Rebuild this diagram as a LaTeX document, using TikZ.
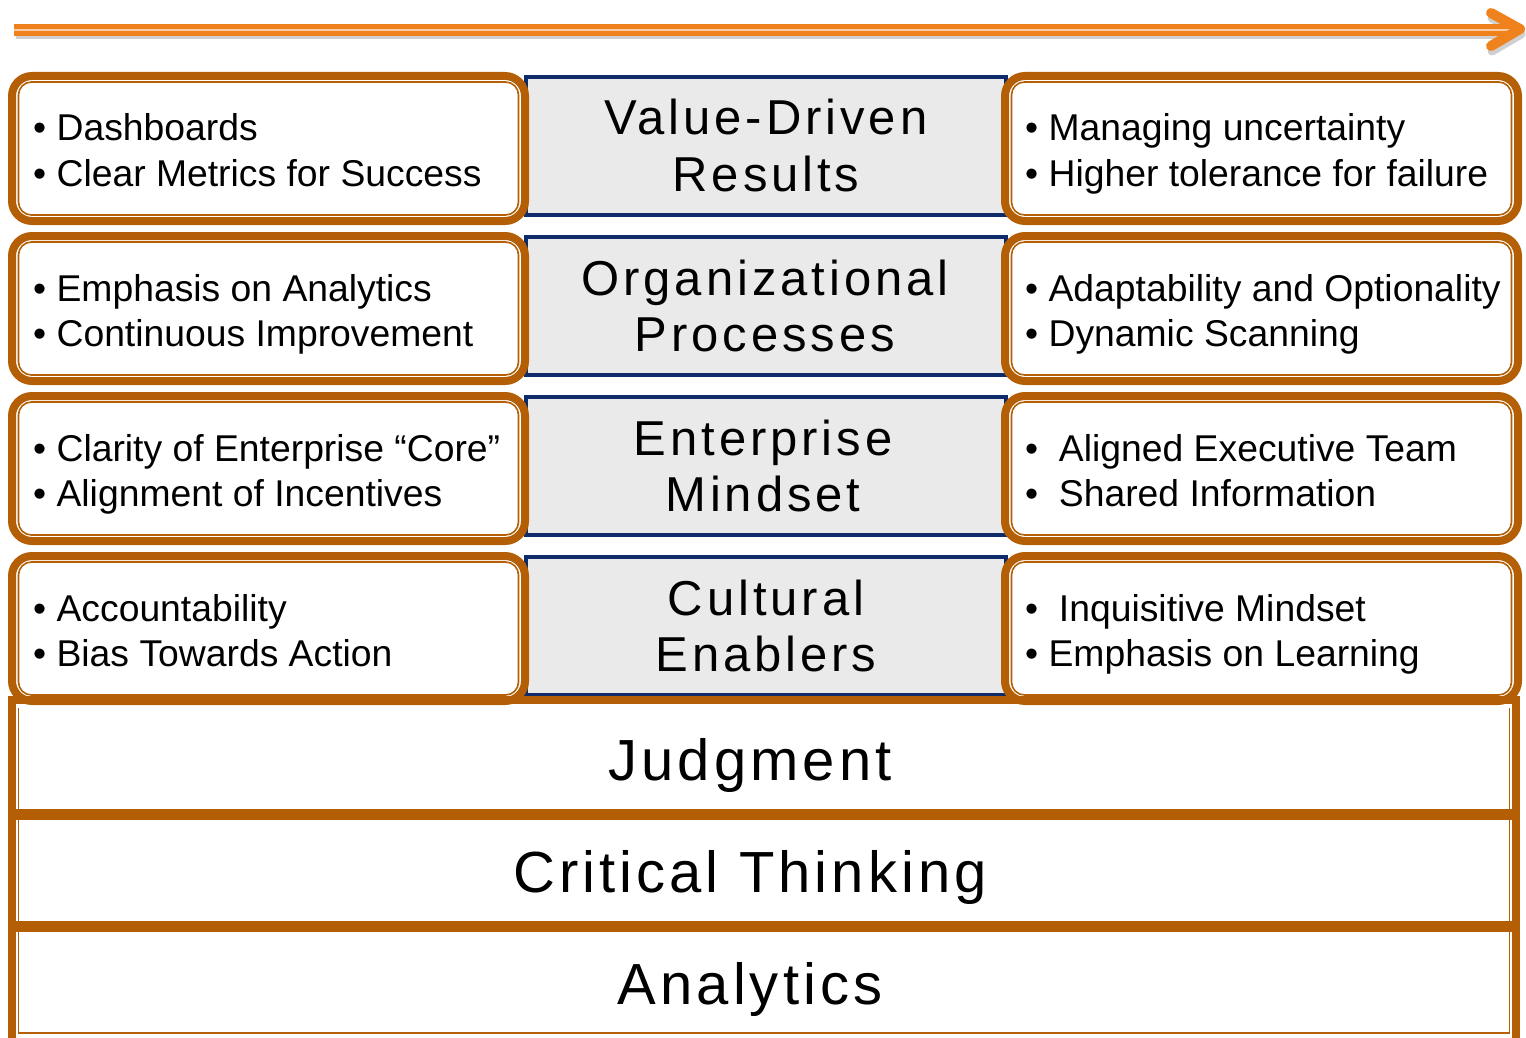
\documentclass[tikz,border=0pt]{standalone}
\usepackage{fontspec}
\setmainfont{Liberation Sans}
\newfontfamily\pillarfont[LetterSpace=8]{Liberation Sans}
\newfontfamily\basefont[LetterSpace=7]{Liberation Sans}
\definecolor{rust}{HTML}{B45F06}
\definecolor{navy}{HTML}{102B6A}
\definecolor{panel}{HTML}{EAEAEA}
\definecolor{arroworange}{HTML}{F0821E}

\tikzset{
  sidebox/.style={draw=rust, line width=8pt, rounded corners=20pt, fill=white},
  sideinner/.style={draw=rust, line width=1.6pt, rounded corners=13pt},
  pillar/.style={draw=navy, line width=3.2pt, fill=panel},
  item/.style={anchor=base west, inner sep=0pt, font=\fontsize{37.3}{45}\selectfont},
  pillartext/.style={anchor=base, inner sep=0pt, font=\pillarfont\fontsize{49}{57}\selectfont},
  basetext/.style={anchor=base, inner sep=0pt, font=\basefont\fontsize{58}{60}\selectfont},
  framethick/.style={draw=rust, line width=8pt},
  framethin/.style={draw=rust, line width=1.5pt},
}

\begin{document}
\begin{tikzpicture}[x=1pt, y=-1pt]
\useasboundingbox (0,0) rectangle (1526,1038);
\fill[white] (0,0) rectangle (1526,1038);

% progress arrow along the top
\coordinate (arrowstart) at (14,30);
\coordinate (arrowend) at (1514,30);
\coordinate (chevtop) at (1491,13);
\coordinate (chevtip) at (1520,29);
\coordinate (chevbot) at (1491,46);
\draw[black!30, line width=7pt, opacity=0.6] ([shift={(2,6)}]arrowstart) -- ([shift={(0,6)}]arrowend);
\draw[black!30, line width=9pt, opacity=0.6, line cap=round, line join=round]
  ([shift={(1,5)}]chevtop) -- ([shift={(1,5)}]chevtip) -- ([shift={(1,5)}]chevbot);
\draw[arroworange, line width=12pt] (arrowstart) -- (arrowend);
\draw[arroworange!40!white, line width=1.5pt] (arrowstart) -- (arrowend);
\draw[arroworange, line width=10pt, line cap=round, line join=round] (chevtop) -- (chevtip) -- (chevbot);

% central pillars
\foreach \r in {0,1,2,3} {
  \pgfmathsetmacro{\dy}{160*\r}
  \draw[pillar] (526,77+\dy) rectangle (1006,215+\dy);
}

% side boxes
\foreach \r in {0,1,2,3} {
  \pgfmathsetmacro{\dy}{160*\r}
  \draw[sidebox] (12,76+\dy) rectangle (525,221+\dy);
  \draw[sideinner] (18.5,82+\dy) rectangle (518.5,215+\dy);
  \draw[sidebox] (1005,76+\dy) rectangle (1518,221+\dy);
  \draw[sideinner] (1011.5,82+\dy) rectangle (1511.5,215+\dy);
}

% foundation layers
\draw[framethick] (12,700) rectangle (1516,1042);
\draw[framethin] (18.5,708) -- (18.5,1033) -- (1509.5,1033) -- (1509.5,708);
\draw[rust, line width=11pt] (12,814) -- (1516,814);
\draw[rust, line width=11pt] (12,926) -- (1516,926);

% pillar titles
\node[pillartext] (p0a) at (766,135) {Value-Driven};
\node[pillartext] (p0b) at (766,191) {Results};
\node[pillartext] (p1a) at (765,295) {Organizational};
\node[pillartext] (p1b) at (765,351) {Processes};
\node[pillartext] (p2a) at (763,455) {Enterprise};
\node[pillartext] (p2b) at (763,511) {Mindset};
\node[pillartext] (p3a) at (766,615) {Cultural};
\node[pillartext] (p3b) at (766,671) {Enablers};

% left lists
\node[item] (l0a) at (33,141) {\textbullet\ Dashboards};
\node[item] (l0b) at (33,186) {\textbullet\ Clear Metrics for Success};
\node[item] (l1a) at (33,301) {\textbullet\ Emphasis on Analytics};
\node[item] (l1b) at (33,346) {\textbullet\ Continuous Improvement};
\node[item] (l2a) at (33,461) {\textbullet\ Clarity of Enterprise “Core”};
\node[item] (l2b) at (33,506) {\textbullet\ Alignment of Incentives};
\node[item] (l3a) at (33,621) {\textbullet\ Accountability};
\node[item] (l3b) at (33,666) {\textbullet\ Bias Towards Action};

% right lists
\node[item] (r0a) at (1025,141) {\textbullet\ Managing uncertainty};
\node[item] (r0b) at (1025,186) {\textbullet\ Higher tolerance for failure};
\node[item] (r1a) at (1025,301) {\textbullet\ Adaptability and Optionality};
\node[item] (r1b) at (1025,346) {\textbullet\ Dynamic Scanning};
\node[item] (r2a) at (1025,461) {\textbullet\ \ Aligned Executive Team};
\node[item] (r2b) at (1025,506) {\textbullet\ \ Shared Information};
\node[item] (r3a) at (1025,621) {\textbullet\ \ Inquisitive Mindset};
\node[item] (r3b) at (1025,666) {\textbullet\ Emphasis on Learning};

% foundation labels
\node[basetext] (judg) at (750,780) {Judgment};
\node[basetext] (crit) at (750,892) {Critical Thinking};
\node[basetext] (anal) at (750,1004) {Analytics};
\end{tikzpicture}
\end{document}
